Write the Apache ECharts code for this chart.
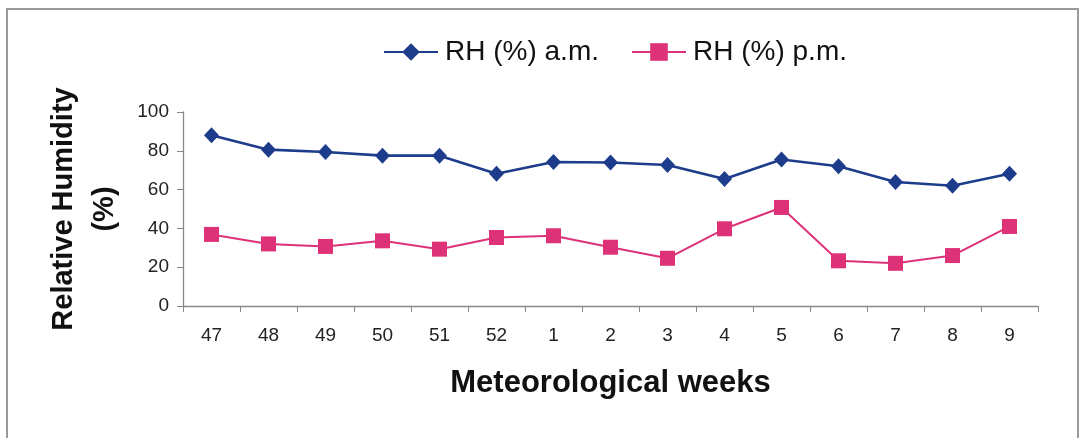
<!DOCTYPE html>
<html>
<head>
<meta charset="utf-8">
<title>Relative Humidity by Meteorological Week</title>
<script src="https://cdn.jsdelivr.net/npm/echarts@6/dist/echarts.min.js"></script>
<style>
  html, body { margin: 0; padding: 0; background: #ffffff; }
  #chart { width: 1083px; height: 438px; }
</style>
</head>
<body>
<div id="chart"></div>
<script>
// Meteorological weeks (late year into early next year)
const weeks = ['47', '48', '49', '50', '51', '52', '1', '2', '3', '4', '5', '6', '7', '8', '9'];

// Relative humidity (%) recorded in the morning and afternoon
const rhMorning = [88, 80.6, 79.4, 77.5, 77.5, 68.2, 74.2, 74, 72.7, 65.5, 75.5, 72, 63.9, 62, 68.2];
const rhEvening = [36.9, 32, 30.7, 33.6, 29.3, 35.3, 36.2, 30.3, 24.6, 39.8, 50.8, 23.3, 22, 26, 41];

// Y-axis scale
const yMin = 0;
const yMax = 100;
const yStep = 20;

const seriesNames = ['RH (%) a.m.', 'RH (%) p.m.'];

const FONT = '"Liberation Sans", Arial, Helvetica, sans-serif';
const BLUE = '#1E3C8C';
const PINK = '#DE3278';

const chart = echarts.init(document.getElementById('chart'), null, { renderer: 'canvas' });

chart.setOption({
  backgroundColor: '#ffffff',
  animation: false,
  graphic: [
    {
      type: 'rect',
      shape: { x: 7, y: 9, width: 1071, height: 440 },
      style: { fill: 'none', stroke: '#9a9a9a', lineWidth: 2 },
      silent: true,
      z: -1
    }
  ],
  legend: {
    top: 33,
    left: 378,
    itemWidth: 54,
    itemHeight: 22,
    itemGap: 32,
    textStyle: { fontFamily: FONT, fontSize: 28, color: '#111111', padding: [0, 0, 0, 2] },
    data: seriesNames
  },
  grid: {
    left: 183,
    right: 45,
    top: 112,
    bottom: 132
  },
  xAxis: {
    type: 'category',
    data: weeks,
    boundaryGap: true,
    name: 'Meteorological weeks',
    nameLocation: 'middle',
    nameGap: 62,
    nameTextStyle: { fontFamily: FONT, fontSize: 31, fontWeight: 'bold', color: '#111111' },
    axisLine: { show: true, lineStyle: { color: '#888888', width: 1.3 } },
    axisTick: { show: true, length: 6, alignWithLabel: false, lineStyle: { color: '#888888' } },
    axisLabel: { fontFamily: FONT, fontSize: 19, color: '#222222', margin: 20 },
    splitLine: { show: false }
  },
  yAxis: {
    type: 'value',
    min: yMin,
    max: yMax,
    interval: yStep,
    name: 'Relative Humidity\n(%)',
    nameLocation: 'middle',
    nameGap: 58,
    nameRotate: 90,
    nameTextStyle: {
      fontFamily: FONT, fontSize: 29, fontWeight: 'bold', color: '#111111',
      lineHeight: 41, align: 'center'
    },
    axisLine: { show: true, lineStyle: { color: '#888888', width: 1.3 } },
    axisTick: { show: true, length: 6, lineStyle: { color: '#888888' } },
    axisLabel: { fontFamily: FONT, fontSize: 19, color: '#222222', margin: 14 },
    splitLine: { show: false }
  },
  series: [
    {
      name: seriesNames[0],
      type: 'line',
      data: rhMorning,
      symbol: 'diamond',
      symbolSize: [15, 16],
      lineStyle: { color: BLUE, width: 2.6 },
      itemStyle: { color: BLUE },
      z: 3
    },
    {
      name: seriesNames[1],
      type: 'line',
      data: rhEvening,
      symbol: 'rect',
      symbolSize: 15,
      lineStyle: { color: PINK, width: 2 },
      itemStyle: { color: PINK },
      z: 2
    }
  ]
});
</script>
</body>
</html>
